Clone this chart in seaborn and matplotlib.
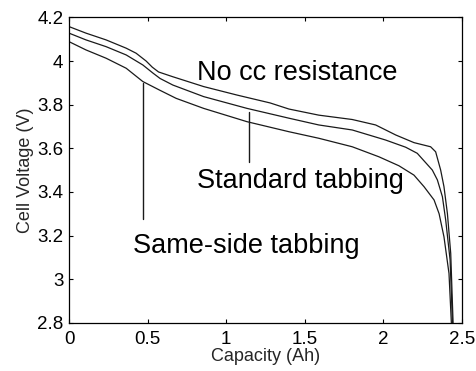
import matplotlib
matplotlib.use("Agg")
import matplotlib.pyplot as plt
import seaborn as sns
import pandas as pd

# ---- data ----
cap_nocc = [0, 0.108, 0.236, 0.364, 0.427, 0.491, 0.53, 0.57, 0.661, 0.857, 1.07, 1.28,
            1.40, 1.59, 1.803, 1.952, 2.08, 2.196, 2.302, 2.334, 2.366, 2.387,
            2.409, 2.43, 2.445]
v_nocc = [4.158, 4.128, 4.097, 4.059, 4.036, 4.000, 3.972, 3.950, 3.928, 3.883, 3.844, 3.808,
          3.780, 3.752, 3.732, 3.707, 3.661, 3.626, 3.607, 3.584, 3.50, 3.424,
          3.30, 3.118, 2.80]

cap_std = [0, 0.108, 0.236, 0.364, 0.47, 0.534, 0.58, 0.661, 0.857, 1.133, 1.40, 1.59,
           1.803, 2.015, 2.143, 2.217, 2.313, 2.345, 2.377, 2.398, 2.426, 2.441]
v_std = [4.128, 4.097, 4.066, 4.028, 3.982, 3.945, 3.920, 3.89, 3.837, 3.783, 3.738, 3.707,
         3.684, 3.638, 3.605, 3.577, 3.50, 3.455, 3.378, 3.271, 3.088, 2.80]

cap_same = [0, 0.108, 0.236, 0.364, 0.47, 0.576, 0.682, 0.857, 1.133, 1.40, 1.59,
            1.803, 1.973, 2.1, 2.196, 2.26, 2.324, 2.356, 2.387, 2.419, 2.434]
v_same = [4.089, 4.051, 4.013, 3.967, 3.906, 3.867, 3.829, 3.783, 3.722, 3.676, 3.646,
          3.607, 3.561, 3.52, 3.477, 3.424, 3.363, 3.30, 3.194, 3.026, 2.80]

series_names = ["No cc resistance", "Standard tabbing", "Same-side tabbing"]
# label text positions (capacity, voltage baseline)
label_x = [0.814, 0.814, 0.41]
label_y = [3.913, 3.416, 3.118]
# pointer lines: x, y_top, y_bottom
pointer_x = [0.474, 1.144]
pointer_top = [3.898, 3.765]
pointer_bottom = [3.276, 3.537]

xticks = [0, 0.5, 1, 1.5, 2, 2.5]
xticklabels = ["0", "0.5", "1", "1.5", "2", "2.5"]
yticks = [2.8, 3.0, 3.2, 3.4, 3.6, 3.8, 4.0, 4.2]
yticklabels = ["2.8", "3", "3.2", "3.4", "3.6", "3.8", "4", "4.2"]

frames = []
for name, c, v in zip(series_names, [cap_nocc, cap_std, cap_same], [v_nocc, v_std, v_same]):
    frames.append(pd.DataFrame({"Capacity": c, "Voltage": v, "Case": name}))
df = pd.concat(frames, ignore_index=True)

sns.set_style("ticks")
plt.rcParams["font.family"] = ["Liberation Sans", "DejaVu Sans"]

fig = plt.figure(figsize=(4.76, 3.71), dpi=100)
ax = fig.add_axes([0.145, 0.130, 0.825, 0.823])

sns.lineplot(data=df, x="Capacity", y="Voltage", units="Case", estimator=None,
             color="#1a1a1a", linewidth=0.9, sort=False, ax=ax, legend=False)

for px, yt, yb in zip(pointer_x, pointer_top, pointer_bottom):
    ax.plot([px, px], [yt, yb], color="#1a1a1a", linewidth=1.0)

for name, lx, ly in zip(series_names, label_x, label_y):
    ax.text(lx, ly, name, fontsize=19.5, ha="left", va="baseline", color="black")

ax.set_xlim(0, 2.5)
ax.set_ylim(2.8, 4.2)
ax.set_xticks(xticks)
ax.set_xticklabels(xticklabels)
ax.set_yticks(yticks)
ax.set_yticklabels(yticklabels)
ax.tick_params(direction="in", length=3, width=0.8, top=True, right=True,
               labelsize=13.5, colors="black")
ax.tick_params(axis="x", pad=6)
ax.tick_params(axis="y", pad=4)
for s in ax.spines.values():
    s.set_color("black")
    s.set_linewidth(0.9)

ax.set_xlabel("Capacity (Ah)", fontsize=13, labelpad=0)
ax.set_ylabel("Cell Voltage (V)", fontsize=13, labelpad=2)

fig.savefig("out.png", dpi=100)
